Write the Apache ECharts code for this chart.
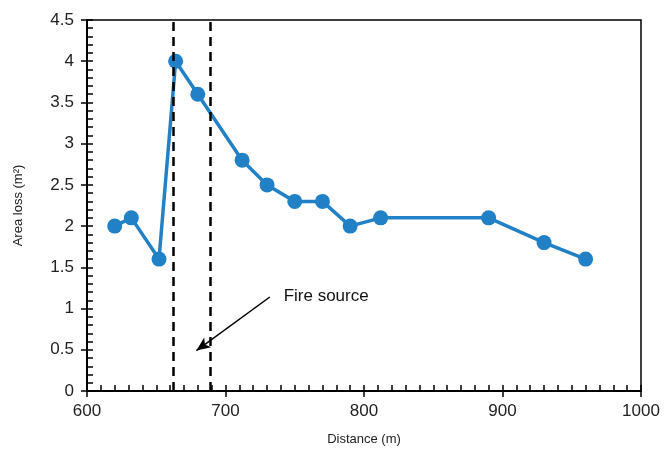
<!DOCTYPE html>
<html>
<head>
<meta charset="utf-8">
<script src="https://cdn.jsdelivr.net/npm/echarts@6/dist/echarts.min.js"></script>
<style>html,body{margin:0;padding:0;background:#fff}#c{width:664px;height:452px}</style>
</head>
<body>
<div id="c"></div>
<script>
const distances = [620, 632, 652, 664, 680, 712, 730, 750, 770, 790, 812, 890, 930, 960];
const areaLoss = [2.0, 2.1, 1.6, 4.0, 3.6, 2.8, 2.5, 2.3, 2.3, 2.0, 2.1, 2.1, 1.8, 1.6];
const fireSourceBounds = [662, 689];
const arrowStart = [732, 1.14];
const arrowEnd = [679, 0.49];
const annotationText = 'Fire source';
const annotationAt = [742, 1.15];
const xRange = [600, 1000];
const yRange = [0, 4.5];

const FONT = 'Liberation Sans, Arial, sans-serif';
const chart = echarts.init(document.getElementById('c'));
const commonX = {type: 'value', min: xRange[0], max: xRange[1], interval: 100, position: 'bottom'};
const commonY = {type: 'value', min: yRange[0], max: yRange[1], interval: 0.5, position: 'left'};
chart.setOption({
  animation: false,
  grid: {left: 87, right: 23, top: 20, bottom: 61, show: true, borderColor: '#000', borderWidth: 1.5, backgroundColor: 'transparent'},
  xAxis: [
    Object.assign({}, commonX, {
      name: 'Distance (m)', nameLocation: 'middle', nameGap: 42,
      nameTextStyle: {fontFamily: FONT, fontSize: 13, color: '#222'},
      axisLine: {show: true, lineStyle: {color: '#000', width: 2}},
      axisTick: {show: true, inside: true, length: 6, lineStyle: {color: '#000', width: 1.5}},
      minorTick: {show: true, splitNumber: 10, length: 6, lineStyle: {color: '#000', width: 1.5}},
      axisLabel: {fontFamily: FONT, fontSize: 17, color: '#222', margin: 12, formatter: v => String(v)},
      splitLine: {show: false}
    }),
    Object.assign({}, commonX, {
      axisLine: {show: false},
      axisTick: {show: true, inside: false, length: 6, lineStyle: {color: '#000', width: 1.5}},
      axisLabel: {show: false}, splitLine: {show: false}
    })
  ],
  yAxis: [
    Object.assign({}, commonY, {
      name: 'Area loss (m²)', nameLocation: 'middle', nameGap: 62,
      nameTextStyle: {fontFamily: FONT, fontSize: 13, color: '#222'},
      axisLine: {show: true, lineStyle: {color: '#000', width: 2}},
      axisTick: {show: true, inside: true, length: 6, lineStyle: {color: '#000', width: 1.5}},
      minorTick: {show: true, splitNumber: 5, length: 6, lineStyle: {color: '#000', width: 1.5}},
      axisLabel: {fontFamily: FONT, fontSize: 17, color: '#222', margin: 13},
      splitLine: {show: false}
    }),
    Object.assign({}, commonY, {
      axisLine: {show: false},
      axisTick: {show: true, inside: false, length: 6, lineStyle: {color: '#000', width: 1.5}},
      axisLabel: {show: false}, splitLine: {show: false}
    })
  ],
  series: [
    {
      type: 'line', xAxisIndex: 0, yAxisIndex: 0,
      data: distances.map((d, i) => [d, areaLoss[i]]),
      symbol: 'circle', symbolSize: 15,
      lineStyle: {color: '#2281C6', width: 3.5},
      itemStyle: {color: '#2281C6'},
      z: 3,
      markLine: {
        silent: true, symbol: ['none', 'none'], animation: false,
        label: {show: false},
        lineStyle: {color: '#000', type: [9, 6], width: 2.5},
        data: fireSourceBounds.map(v => ({xAxis: v}))
      }
    },
    {
      type: 'line', xAxisIndex: 0, yAxisIndex: 0, data: [], z: 4,
      markLine: {
        silent: true, animation: false,
        symbol: ['none', 'arrow'], symbolSize: [9, 14],
        label: {show: false},
        lineStyle: {color: '#000', type: 'solid', width: 1.5},
        data: [[{coord: arrowStart}, {coord: arrowEnd}]]
      },
      markPoint: {
        silent: true, animation: false,
        symbol: 'circle', symbolSize: 0,
        label: {show: true, position: 'right', distance: 0, formatter: annotationText, fontFamily: FONT, fontSize: 17, color: '#111'},
        data: [{coord: annotationAt}]
      }
    }
  ]
});
</script>
</body>
</html>
